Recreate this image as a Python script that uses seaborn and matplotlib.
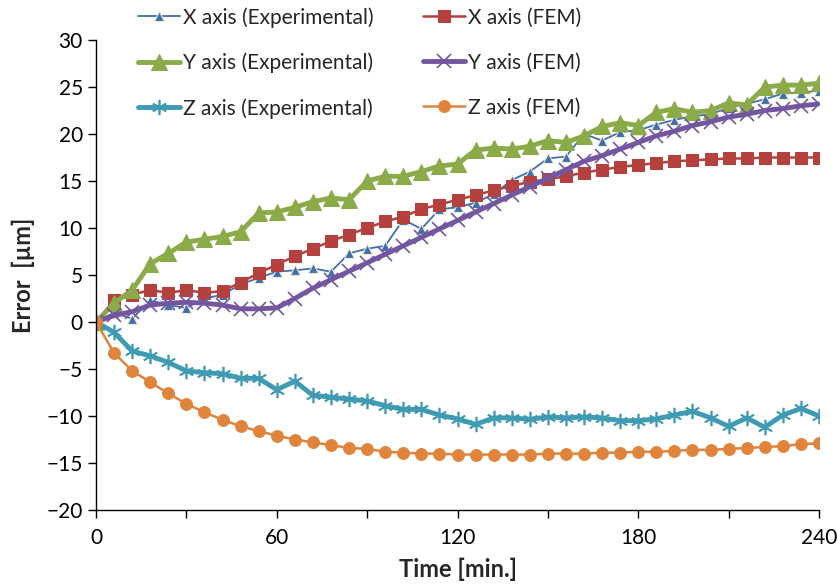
import matplotlib
matplotlib.use("Agg")
import matplotlib.pyplot as plt
import seaborn as sns

sns.set_style("ticks")
plt.rcParams['font.family'] = ['Lato', 'DejaVu Sans']

# time in minutes (one reading every 6 min)
time_min = [0, 6, 12, 18, 24, 30, 36, 42, 48, 54, 60, 66, 72, 78, 84, 90, 96, 102, 108, 114,
            120, 126, 132, 138, 144, 150, 156, 162, 168, 174, 180, 186, 192, 198, 204, 210,
            216, 222, 228, 234, 240]

x_exp = [0, 1.0, 0.35, 2.3, 1.8, 1.5, 2.5, 2.9, 4.0, 4.7, 5.35, 5.5, 5.7, 5.35, 7.3, 7.8, 8.1,
         10.9, 9.9, 12.0, 12.2, 12.7, 13.6, 15.1, 16.0, 17.4, 17.6, 20.0, 19.3, 20.2, 20.4,
         21.0, 21.5, 21.9, 22.1, 22.8, 23.2, 23.7, 24.3, 24.4, 24.6]
x_fem = [0, 2.3, 2.9, 3.4, 3.1, 3.4, 3.1, 3.3, 4.2, 5.2, 6.1, 7.0, 7.8, 8.6, 9.3, 10.0, 10.7,
         11.2, 12.0, 12.5, 13.0, 13.5, 14.0, 14.5, 14.9, 15.2, 15.5, 15.9, 16.2, 16.5, 16.7,
         16.9, 17.1, 17.2, 17.3, 17.4, 17.4, 17.5, 17.5, 17.5, 17.5]
y_exp = [0, 2.0, 3.4, 6.2, 7.3, 8.5, 8.8, 9.1, 9.6, 11.6, 11.7, 12.2, 12.8, 13.2, 13.0, 15.0,
         15.5, 15.5, 16.0, 16.6, 16.8, 18.3, 18.5, 18.4, 18.7, 19.3, 19.1, 19.8, 20.8, 21.2,
         20.9, 22.3, 22.7, 22.3, 22.5, 23.3, 23.1, 25.0, 25.2, 25.2, 25.4]
y_fem = [0, 0.7, 1.1, 1.8, 2.0, 2.1, 2.0, 1.8, 1.4, 1.4, 1.5, 2.5, 3.6, 4.5, 5.4, 6.3, 7.2,
         8.1, 9.0, 9.9, 10.8, 11.7, 12.6, 13.5, 14.4, 15.3, 16.2, 17.1, 17.7, 18.4, 19.1,
         19.8, 20.3, 20.9, 21.3, 21.8, 22.1, 22.5, 22.7, 23.0, 23.2]
z_exp = [0, -1.1, -3.1, -3.6, -4.3, -5.2, -5.4, -5.5, -6.0, -6.0, -7.2, -6.3, -7.8, -8.0, -8.2,
         -8.4, -8.9, -9.3, -9.3, -9.9, -10.3, -10.9, -10.2, -10.2, -10.35, -10.1, -10.2, -10.1,
         -10.2, -10.5, -10.5, -10.3, -9.9, -9.5, -10.2, -11.1, -10.2, -11.2, -9.9, -9.2, -10.0]
z_fem = [0, -3.3, -5.2, -6.4, -7.6, -8.7, -9.6, -10.4, -11.1, -11.6, -12.1, -12.5, -12.8, -13.1,
         -13.4, -13.5, -13.8, -13.9, -14.0, -14.0, -14.1, -14.1, -14.1, -14.1, -14.1, -14.0,
         -14.0, -14.0, -13.9, -13.9, -13.8, -13.8, -13.7, -13.6, -13.6, -13.5, -13.4, -13.3,
         -13.2, -13.0, -12.9]

x_ticks = [0, 60, 120, 180, 240]
y_ticks = [-20, -15, -10, -5, 0, 5, 10, 15, 20, 25, 30]

fig = plt.figure(figsize=(8.38, 5.84), dpi=100)
ax = fig.add_axes([96/838, 1-510/584, (819-96)/838, (510-40)/584])

# series styles (Excel-like)
sns.lineplot(x=time_min, y=x_exp, ax=ax, color='#3E70B0', lw=1.3, marker='^', markersize=6.5,
             markeredgecolor='#EEE8D0', markeredgewidth=0.8, label='X axis (Experimental)')
sns.lineplot(x=time_min, y=x_fem, ax=ax, color='#B5413E', lw=1.8, marker='s', markersize=8,
             markeredgecolor='#B5413E', label='X axis (FEM)')
sns.lineplot(x=time_min, y=y_exp, ax=ax, color='#8BAA48', lw=3.5, marker='^', markersize=11,
             markeredgecolor='#8BAA48', label='Y axis (Experimental)')
sns.lineplot(x=time_min, y=y_fem, ax=ax, color='#7257A0', lw=3.5, marker='x', markersize=10,
             markeredgewidth=1.2, markeredgecolor='#7257A0', label='Y axis (FEM)')
sns.lineplot(x=time_min, y=z_exp, ax=ax, color='#3F9AB4', lw=3.5, marker=(6, 2, 0), markersize=11,
             markeredgewidth=1.2, markeredgecolor='#3F9AB4', label='Z axis (Experimental)')
sns.lineplot(x=time_min, y=z_fem, ax=ax, color='#E0843C', lw=1.8, marker='o', markersize=8.5,
             markeredgecolor='#E0843C', label='Z axis (FEM)')

ax.set_xlim(0, 240)
ax.set_ylim(-20, 30)
ax.set_xticks(x_ticks)
ax.set_xticks([30, 90, 150, 210], minor=True)
ax.set_yticks(y_ticks)
ax.tick_params(axis='both', which='both', direction='out', length=6, width=1, labelsize=15, colors='black')
ax.tick_params(axis='x', which='major', pad=7)
for side in ['top', 'right']:
    ax.spines[side].set_visible(False)
for side in ['left', 'bottom']:
    ax.spines[side].set_color('black')
    ax.spines[side].set_linewidth(1)

ax.set_xlabel('Time [min.]', fontsize=17, fontweight='bold', labelpad=7)
ax.set_ylabel('Error  [\u00b5m]', fontsize=17, fontweight='bold', labelpad=8)

handles, labels = ax.get_legend_handles_labels()
ax.legend_.remove()
order = [0, 2, 4, 1, 3, 5]
fig.legend([handles[i] for i in order], [labels[i] for i in order], ncol=2, loc='upper left',
           bbox_to_anchor=(138/838, 1-7/584), frameon=False, fontsize=15,
           handlelength=2.0, handletextpad=0.15, columnspacing=2.4, labelspacing=1.2,
           borderpad=0, borderaxespad=0)

fig.savefig('out.png', dpi=100)
